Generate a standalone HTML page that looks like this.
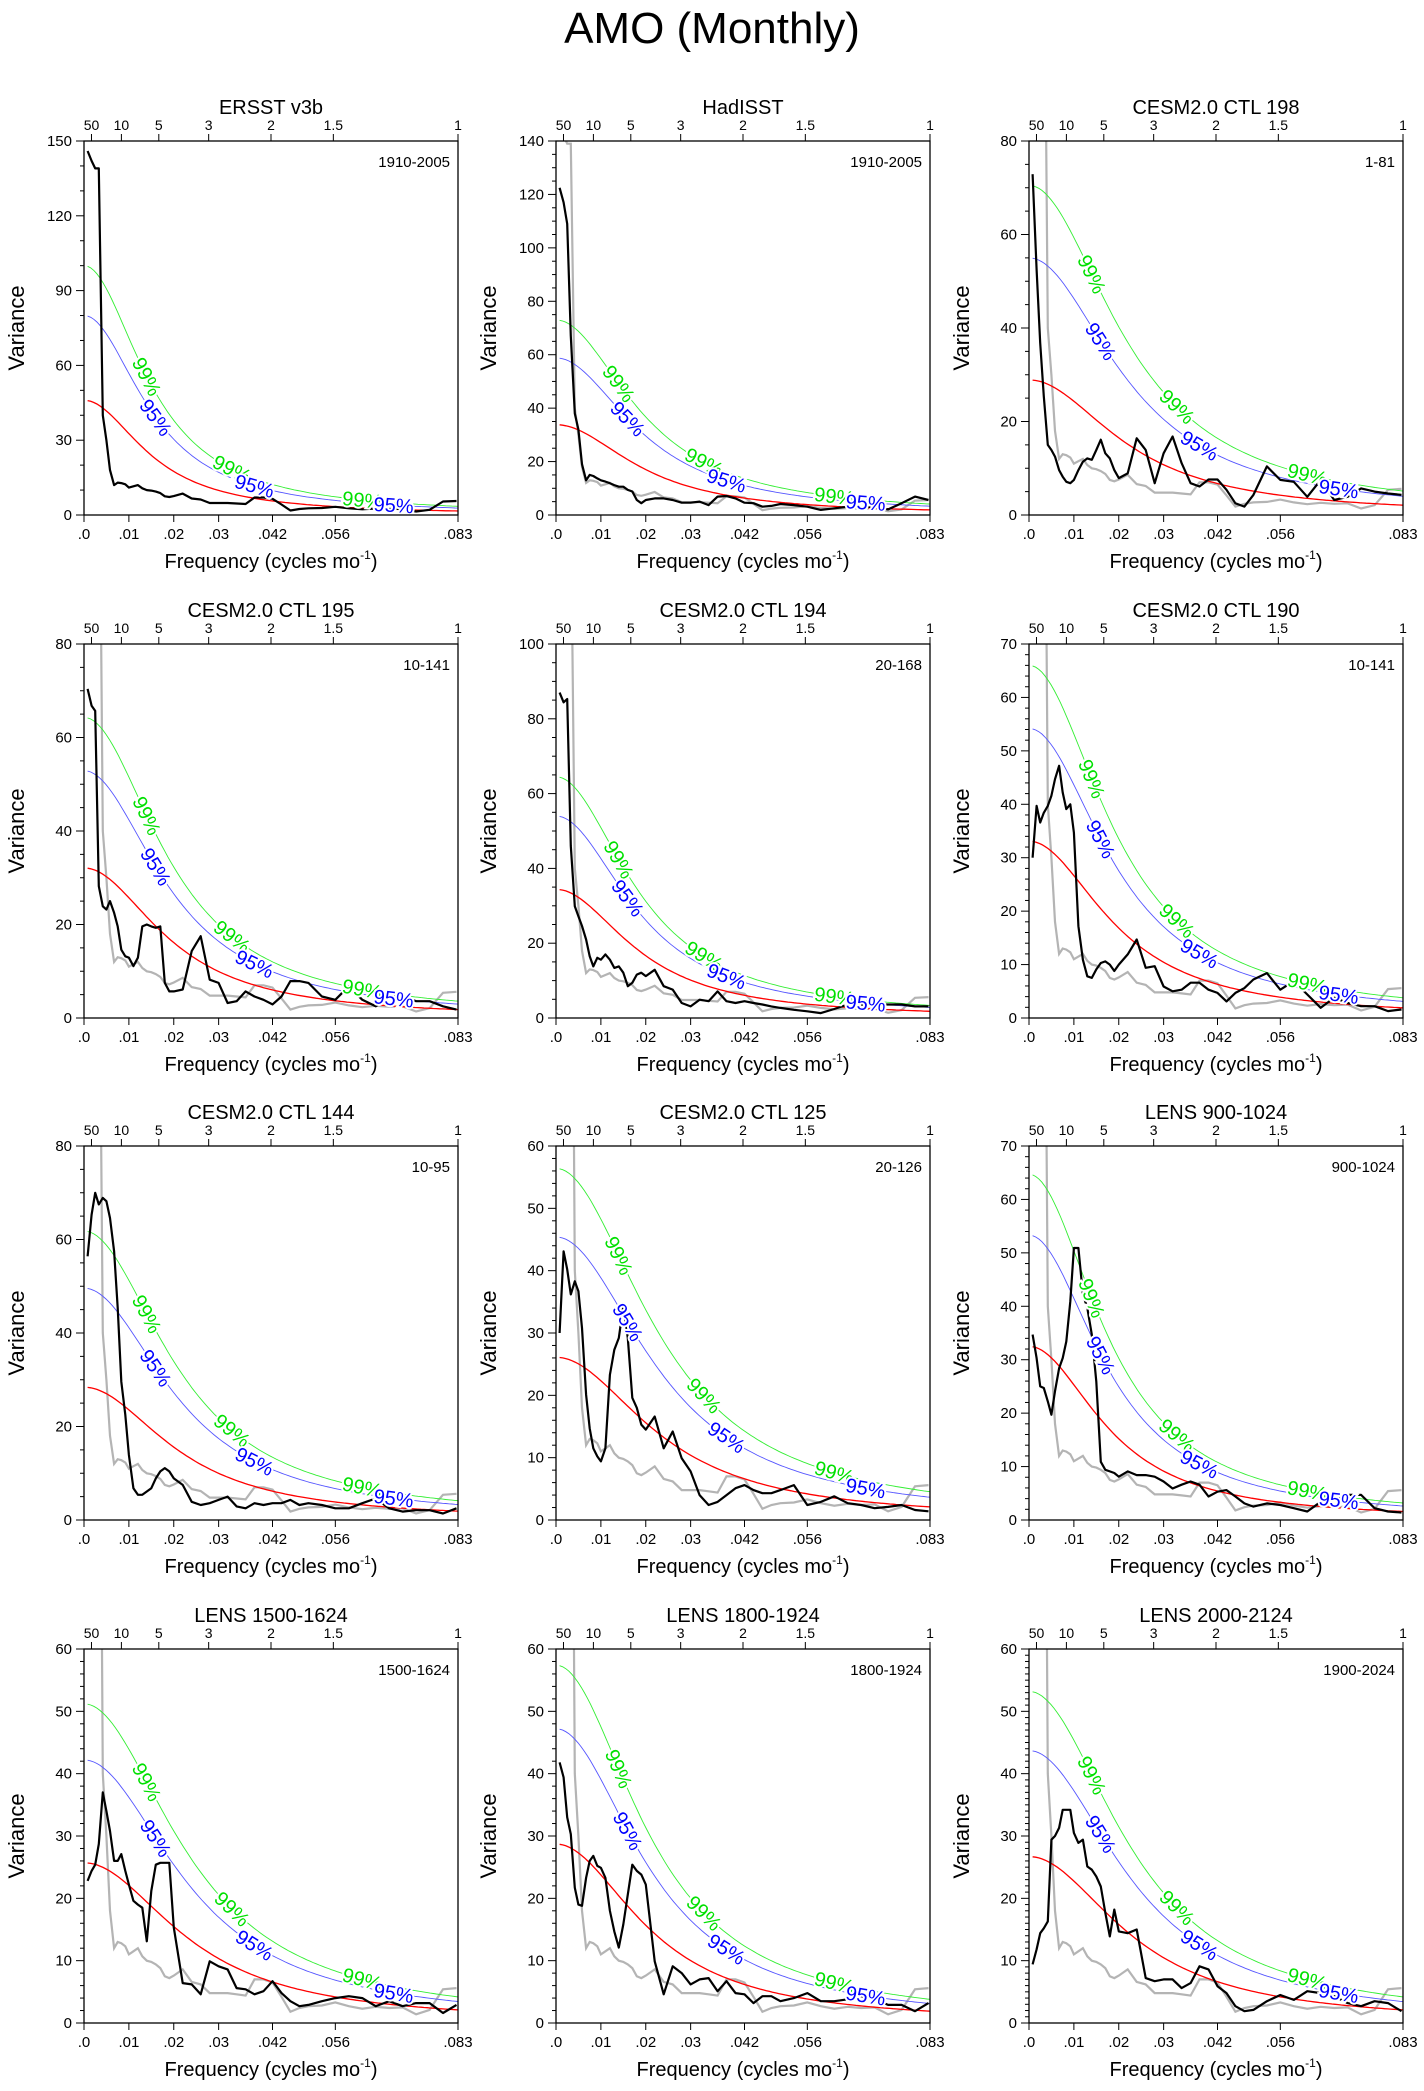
<!DOCTYPE html>
<html><head><meta charset="utf-8"><style>
body{margin:0;background:#fff}
svg{display:block;font-family:"Liberation Sans",Arial,sans-serif}
</style></head><body>
<svg id="fig" width="1424" height="2091" viewBox="0 0 1424 2091" xmlns="http://www.w3.org/2000/svg">
<text x="712" y="43" font-size="44" text-anchor="middle">AMO (Monthly)</text>
</svg>
<script>
// shared frequency grid (cycles per month)
const freqs = [.0008,.0017,.0025,.0033,.0042,.005,.0058,.0067,.0075,.0083,.0092,.01,.011,.012,.013,.014,.015,.016,.017,.018,.019,.02,.022,.024,.026,.028,.03,.032,.034,.036,.038,.04,.042,.044,.046,.048,.05,.053,.056,.059,.062,.065,.068,.071,.074,.077,.08,.083];
// observed (grey) spectrum
const obsValues = [146,142,139,139,40,30,18,12,13,12.8,12.3,11,11.5,12,10.7,10,9.8,9.4,8.8,7.5,7.2,7.6,8.6,6.6,6.2,4.8,4.8,4.8,4.6,4.4,7,7,6.5,4.2,1.8,2.4,2.7,2.8,3.3,2.7,2.3,2.6,2.4,2.5,1.4,2.1,5.4,5.6];
const panelTitles = ["ERSST v3b","HadISST","CESM2.0 CTL 198","CESM2.0 CTL 195","CESM2.0 CTL 194","CESM2.0 CTL 190","CESM2.0 CTL 144","CESM2.0 CTL 125","LENS 900-1024","LENS 1500-1624","LENS 1800-1924","LENS 2000-2124"];
const panelPeriods = ["1910-2005","1910-2005","1-81","10-141","20-168","10-141","10-95","20-126","900-1024","1500-1624","1800-1924","1900-2024"];
const yMax = [150,140,80,80,100,70,80,60,70,60,60,60];
const yStep = [30,20,20,20,20,10,20,10,10,10,10,10];
const yMinor = [10,5,5,5,5,2,5,2,2,2,2,1];
const redStart = [46,33.8,28.9,32.1,34.4,33.1,28.4,26.1,32.5,25.7,28.7,26.7];
const redEnd = [1.6,1.9,2.1,1.8,1.8,1.9,1.9,2.1,1.6,2.1,1.9,2.1];
const sig95Start = [80,58.8,55,52.9,54,54.2,49.6,45.4,53.3,42.2,47.2,43.7];
const sig99Start = [100,73,70.5,64.3,64.5,66,61.8,56.4,64.7,51.2,57.4,53.2];
const series = [
 obsValues,
 [122.5,117,109,67,38,32,19,13,15,14.6,13.7,13,12.5,11.9,11.2,10.6,10.6,9.4,8.8,5.6,4.4,5.6,6.2,6.2,5.6,4.6,4.6,5,3.7,6.9,7.1,6.2,4.6,4.4,3.1,3.4,4.1,3.7,3.1,1.9,2.5,3.1,2.9,3.1,2.1,4.4,6.9,5.6],
 [72.9,52.5,36.8,25.4,15,13.9,12.5,9.6,8.2,7.1,6.8,7.5,9.6,11.4,12.1,11.8,13.9,16.1,13.2,12.1,9.6,7.9,8.9,16.4,13.9,6.8,13.2,16.8,11.1,6.8,6.1,7.6,7.6,5.4,2.5,1.8,4.3,10.4,7.5,7.1,3.9,7.5,3.2,3.9,5.7,5,4.6,4.3],
 [70.4,66.8,65.7,28.2,23.9,23.2,25,22.5,19.6,14.6,13.2,12.9,11.1,12.9,19.6,20,19.6,19.3,19.6,7.5,5.7,5.7,6.1,14.3,17.5,8.2,7.5,3.2,3.6,5.7,4.6,3.9,2.9,4.6,7.9,7.9,7.5,4.6,3.9,6.8,3.9,2.5,4.6,4.6,3.6,3.6,2.5,1.8],
 [87,84.4,85.3,46,29.9,27.2,24.6,21,16.5,13.8,16.1,15.6,17,15.6,13.4,13.8,12.1,8.5,9.4,11.6,12.1,11.2,12.9,8.5,7.6,4,3.1,4.9,4.5,7.1,4.5,4,4.5,4,3.6,3.1,2.7,2.2,1.8,1.3,2.4,3.6,3.6,3.6,3.6,3.6,3.1,3.1],
 [30,39.7,36.6,38.4,39.7,41.6,44.7,47.2,42.2,39.1,40,34.7,17.2,10.9,7.8,7.5,9.1,10.3,10.6,10,8.8,10,11.9,14.7,9.4,9.7,5.9,5,5.3,6.6,6.6,5.3,4.7,3.1,4.7,5.6,7.2,8.4,5.3,6.9,4.4,1.9,3.8,2.8,2.2,2.2,1.3,1.6],
 [56.4,65.3,70,67.5,68.9,68.2,64.6,57.5,45.4,29.6,22.5,13.9,6.8,5.4,5.4,6.1,6.8,8.9,10.4,11.1,10.4,8.9,7.5,3.9,3.2,3.6,4.3,5,2.9,2.5,3.6,3.2,3.6,3.6,4.3,3.2,3.6,3.2,2.5,2.5,3.6,4.6,2.5,1.8,2.1,2.1,1.4,2.5],
 [30,43.1,40.2,36.2,38.3,36.7,30.8,20.1,14.7,11.5,10.2,9.4,11.5,23.3,27.3,29.2,34.3,29.2,19.6,18,15.3,14.5,16.6,11.5,14.2,9.9,7.8,4,2.4,2.9,4,5.1,5.6,4.8,4.3,4.3,4.8,5.6,2.4,2.9,3.8,2.7,2.4,1.9,2.1,2.4,1.6,1.4],
 [34.7,30.3,25,24.7,22.2,19.7,24.1,28.4,30.3,33.4,40.9,50.9,50.9,42.2,39.7,34.7,25.9,10.9,9.4,9.1,8.8,8.1,9.1,8.4,8.4,8.1,7.2,5.9,6.6,7.2,6.6,4.4,5.3,5.6,4.4,3.1,2.5,3.1,2.8,2.2,1.6,3.4,4.1,4.7,4.7,2.2,1.6,1.4],
 [22.8,24.4,25.4,28.7,37,34,30.8,26,26,27.1,24.4,22.2,19.6,19,18.5,13.1,21.2,25.4,25.7,25.7,25.7,15.3,6.4,6.2,4.6,9.9,9.1,8.6,5.6,5.4,4.6,5.1,6.7,4.8,3.5,2.7,2.9,3.5,4,4.3,4,2.7,3.5,2.7,3.2,3.2,1.6,2.9],
 [41.8,39.4,33,30.3,21.7,19,18.8,23.3,26,26.8,25.2,24.9,23.3,18,14.7,12.1,15.8,20.6,25.4,24.4,23.8,22.2,9.9,4.6,9.1,8,6.2,7,7.2,5.1,6.7,4.8,4.6,3.2,4.3,4.3,3.5,4,4.8,3.5,3.5,3.8,4.3,3.8,2.9,2.9,1.9,3.2],
 [9.4,11.8,14.4,15.2,16.3,29.4,30,31.3,34.2,34.2,34.2,30.5,28.9,29.4,25.1,24.6,23.5,21.9,17.7,13.9,18.2,14.7,14.4,15,7.2,6.7,7,7,5.6,6.4,9.1,8.6,5.9,4.8,2.7,1.9,2.1,3.5,4.5,3.7,5.1,4.8,4.3,3.2,2.7,3.5,3.2,1.9]
];
const xTickVals = [0,.01,.02,.03,.042,.056,1/12];
const xTickLabels = [".0",".01",".02",".03",".042",".056",".083"];
const periodTicks = [50,10,5,3,2,1.5,1];
const sig99LabelF = [.014,.033,.062];
const sig95LabelF = [.016,.038,.069];

const NS = "http://www.w3.org/2000/svg";
const svg = document.getElementById('fig');
const colL = [84,556,1029], rowT = [141,644,1146,1649];
const W = 374, H = 374, FMAX = 1/12;
function mk(tag, attrs, parent){const e=document.createElementNS(NS,tag);for(const k in attrs)e.setAttribute(k,attrs[k]);(parent||svg).appendChild(e);return e;}

panelTitles.forEach((title,p)=>{
  const L = colL[p%3], T = rowT[Math.floor(p/3)];
  const xs = f => L + f/FMAX*W;
  const ys = v => T + H - v/yMax[p]*H;
  const g = mk('g',{});
  
  
  const cid='clip'+p;
  const cp = mk('clipPath',{id:cid},g); mk('rect',{x:L,y:T,width:W,height:H},cp);
  const plot = mk('g',{'clip-path':'url(#'+cid+')'},g);
  const c = Math.cos(2*Math.PI*FMAX);
  const K = (redStart[p]/redEnd[p]-1)/(2*(1-c));
  const r = ((2*K+1)-Math.sqrt((2*K+1)**2-4*K*K))/(2*K);
  const red = f => redStart[p]*(1-r)**2/(1+r*r-2*r*Math.cos(2*Math.PI*f));
  const k95 = sig95Start[p]/redStart[p], k99 = sig99Start[p]/redStart[p];
  function curvePath(mult){let d='';for(let i=0;i<=120;i++){const f=0.0008+(FMAX-0.0008)*i/120;d+=(i?'L':'M')+xs(f).toFixed(1)+','+ys(red(f)*mult).toFixed(1);}return d;}
  if(p>0){
    const gp = mk('path',{d:freqs.map((f,i)=>(i?'L':'M')+xs(f).toFixed(1)+','+ys(obsValues[i]).toFixed(1)).join(''),fill:'none',stroke:'#b4b4b4','stroke-width':2.2},plot);
    
    
  }
  const rp = mk('path',{d:curvePath(1),fill:'none',stroke:'#ff0000','stroke-width':1.3},plot);
  
  
  const bp = mk('path',{d:curvePath(k95),fill:'none',stroke:'#5555ff','stroke-width':0.9},plot);
  
  
  const gr = mk('path',{d:curvePath(k99),fill:'none',stroke:'#33ee33','stroke-width':0.9},plot);
  
  
  function labels(fs,mult,txt,col,nm){
    fs.forEach(f=>{
      const x=xs(f), y=ys(red(f)*mult);
      const y2=ys(red(f+0.0005)*mult), x2=xs(f+0.0005);
      const ang=Math.atan2(y2-y,x2-x)*180/Math.PI;
      const t=mk('text',{x:x,y:y+7,'font-size':20,'text-anchor':'middle',fill:col,stroke:'#fff','stroke-width':4,'paint-order':'stroke',transform:'rotate('+ang.toFixed(1)+' '+x.toFixed(1)+' '+y.toFixed(1)+')'},plot);
      t.textContent=txt;
      
      
    });
  }
  const vals = series[p];
  const blk = mk('path',{d:freqs.map((f,i)=>(i?'L':'M')+xs(f).toFixed(1)+','+ys(vals[i]).toFixed(1)).join(''),fill:'none',stroke:'#000','stroke-width':2.2,'stroke-linejoin':'round'},plot);
  
  
  labels(sig99LabelF,k99,'99%','#00e000','label-99-percent');
  labels(sig95LabelF,k95,'95%','#0000ff','label-95-percent');
  const fr = mk('rect',{x:L,y:T,width:W,height:H,fill:'none',stroke:'#000','stroke-width':1.3},g);
  
  
  for(let v=0; v<=yMax[p]+1e-9; v+=yMinor[p]){
    const major = Math.abs(v/yStep[p]-Math.round(v/yStep[p]))<1e-6;
    mk('line',{x1:L-(major?8:4),x2:L,y1:ys(v),y2:ys(v),stroke:'#000','stroke-width':1},g);
    if(major){const t=mk('text',{x:L-12,y:ys(v)+5,'font-size':15,'text-anchor':'end'},g);t.textContent=Math.round(v);
      
      }
  }
  xTickVals.forEach((f,i)=>{
    mk('line',{x1:xs(f),x2:xs(f),y1:T+H,y2:T+H+7,stroke:'#000','stroke-width':1},g);
    const t=mk('text',{x:xs(f),y:T+H+24,'font-size':15,'text-anchor':'middle'},g);t.textContent=xTickLabels[i];
    
    
  });
  periodTicks.forEach(yr=>{
    const f=1/(yr*12);
    mk('line',{x1:xs(f),x2:xs(f),y1:T,y2:T-7,stroke:'#000','stroke-width':1},g);
    const t=mk('text',{x:xs(f),y:T-11,'font-size':14,'text-anchor':'middle'},g);t.textContent=yr;
    
    
  });
  const tt=mk('text',{x:L+W/2,y:T-27,'font-size':20,'text-anchor':'middle'},g);tt.textContent=title;
  
  
  const pl=mk('text',{x:L+W-8,y:T+26,'font-size':15,'text-anchor':'end'},g);pl.textContent=panelPeriods[p];
  
  
  const yt=mk('text',{x:L-60,y:T+H/2,'font-size':22,'text-anchor':'middle',transform:'rotate(-90 '+(L-60)+' '+(T+H/2)+')'},g);yt.textContent='Variance';
  
  
  const xt=mk('text',{x:L+W/2,y:T+H+53,'font-size':20,'text-anchor':'middle'},g);
  
  
  xt.appendChild(document.createTextNode('Frequency (cycles mo'));
  const sup=mk('tspan',{'font-size':12,dy:-9},xt);sup.textContent='-1';
  const cl=mk('tspan',{'font-size':20,dy:9},xt);cl.textContent=')';
});
</script>
</body></html>
